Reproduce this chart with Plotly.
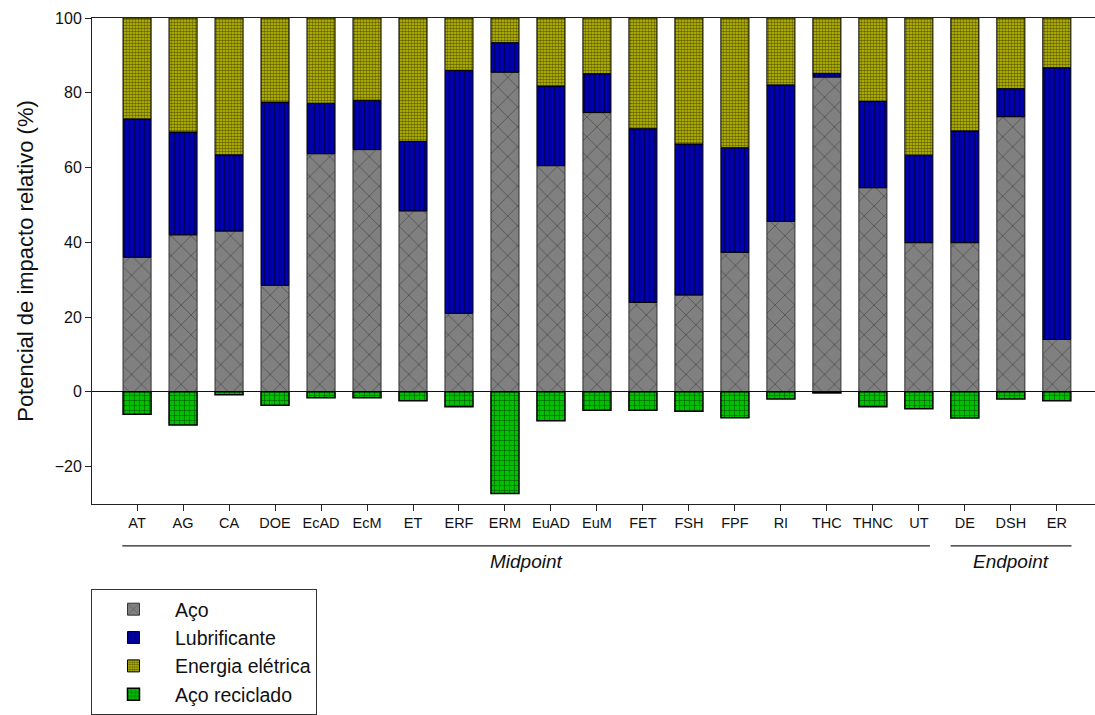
import plotly.graph_objects as go

# Impact categories (midpoint then endpoint)
categories = ["AT", "AG", "CA", "DOE", "EcAD", "EcM", "ET", "ERF", "ERM", "EuAD",
              "EuM", "FET", "FSH", "FPF", "RI", "THC", "THNC", "UT", "DE", "DSH", "ER"]

# Relative impact potential (%) per contributor
aco = [36.0, 42.0, 43.0, 28.5, 63.7, 64.8, 48.4, 21.0, 85.5, 60.5,
       74.7, 23.9, 25.9, 37.3, 45.6, 84.2, 54.6, 39.9, 39.9, 73.6, 14.0]
lubrificante = [37.0, 27.5, 20.4, 49.0, 13.5, 13.2, 18.6, 65.0, 7.9, 21.3,
                10.4, 46.5, 40.4, 28.0, 36.5, 1.0, 23.1, 23.4, 29.9, 7.5, 72.7]
energia = [27.0, 30.5, 36.6, 22.5, 22.8, 22.0, 33.0, 14.0, 6.6, 18.2,
           14.9, 29.6, 33.7, 34.7, 17.9, 14.8, 22.3, 36.7, 30.2, 18.9, 13.3]
aco_reciclado = [-6.0, -8.9, -0.8, -3.6, -1.6, -1.6, -2.4, -4.0, -27.2, -7.7,
                 -4.9, -4.9, -5.2, -6.9, -1.9, -0.3, -4.0, -4.5, -7.0, -1.9, -2.4]

positions = list(range(len(categories)))
font_family = "Liberation Sans, Arial, sans-serif"
bar_width = 0.61

fig = go.Figure()

fig.add_trace(go.Bar(
    name="Aço", x=positions, y=aco, width=bar_width,
    marker=dict(color="#808080", line=dict(color="#333333", width=1),
                pattern=dict(shape="x", fgcolor="#111111", bgcolor="#808080",
                             size=14, solidity=0.1)),
))
fig.add_trace(go.Bar(
    name="Lubrificante", x=positions, y=lubrificante, width=bar_width,
    marker=dict(color="#0000b4", line=dict(color="#000000", width=1),
                pattern=dict(shape="|", fgcolor="#000000", bgcolor="#0000b4",
                             size=5, solidity=0.3)),
))
fig.add_trace(go.Bar(
    name="Energia elétrica", x=positions, y=energia, width=bar_width,
    marker=dict(color="#9a9a00", line=dict(color="#000000", width=1),
                pattern=dict(shape=".", fgcolor="#000000", bgcolor="#c8c800",
                             size=3, solidity=0.6)),
))
fig.add_trace(go.Bar(
    name="Aço reciclado", x=positions, y=aco_reciclado, width=bar_width,
    marker=dict(color="#00c000", line=dict(color="#000000", width=1.5),
                pattern=dict(shape="+", fgcolor="#000000", bgcolor="#00c000",
                             size=5, solidity=0.25)),
))

# Group brackets under the category labels
groups = [("Midpoint", -0.32, 17.24), ("Endpoint", 17.69, 20.32)]
for label, x0, x1 in groups:
    fig.add_shape(type="line", xref="x", yref="paper", x0=x0, x1=x1,
                  y0=-0.086, y1=-0.086, line=dict(color="#222222", width=1.2))
    fig.add_annotation(x=(x0 + x1) / 2, xref="x", y=-0.092, yref="paper",
                       yanchor="top", text=f"<i>{label}</i>", showarrow=False,
                       font=dict(family=font_family, size=19, color="#111111"))

fig.update_layout(
    width=1095, height=715,
    margin=dict(l=92, r=0, t=18, b=210),
    paper_bgcolor="white", plot_bgcolor="white",
    barmode="relative", bargap=0.4,
    font=dict(family=font_family, size=14, color="#111111"),
    showlegend=True,
    legend=dict(x=-0.001, xanchor="left", y=-0.1745, yanchor="top",
                traceorder="normal", bordercolor="#333333", borderwidth=1,
                bgcolor="white", font=dict(size=19.5, color="#111111"),
                itemwidth=73, tracegroupgap=0),
)

fig.update_xaxes(
    range=[-0.98, 20.83], tickmode="array", tickvals=positions, ticktext=categories,
    showline=True, linecolor="#222222", linewidth=1, mirror=True,
    ticks="outside", ticklen=6, tickcolor="#222222", showgrid=False, zeroline=False,
    tickfont=dict(size=14.5),
)
fig.update_yaxes(
    range=[-30, 100], tickvals=[-20, 0, 20, 40, 60, 80, 100],
    showline=True, linecolor="#222222", linewidth=1, mirror=False,
    ticks="outside", ticklen=6, tickcolor="#222222", showgrid=False,
    zeroline=True, zerolinecolor="#111111", zerolinewidth=1,
    tickfont=dict(size=16),
    title=dict(text="Potencial de impacto relativo (%)", font=dict(size=22), standoff=14),
)

fig.write_html("out.html")
